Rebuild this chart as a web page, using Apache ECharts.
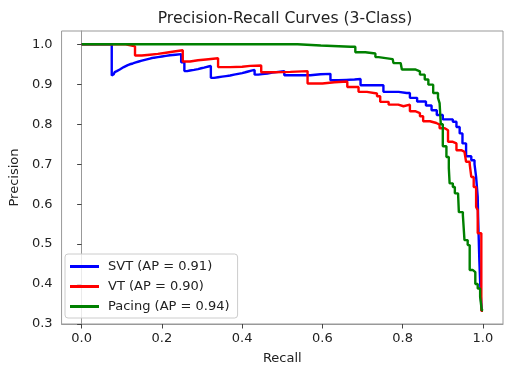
<!DOCTYPE html>
<html>
<head>
<meta charset="utf-8">
<script src="https://cdn.jsdelivr.net/npm/echarts@6/dist/echarts.min.js"></script>
<style>html,body{margin:0;padding:0;background:#fff;}#c{width:512px;height:375px;}</style>
</head>
<body>
<div id="c"></div>
<script>
var seriesNames = ['SVT (AP = 0.91)', 'VT (AP = 0.90)', 'Pacing (AP = 0.94)'];
var xTicks = [0.0, 0.2, 0.4, 0.6, 0.8, 1.0];
var yTicks = [0.3, 0.4, 0.5, 0.6, 0.7, 0.8, 0.9, 1.0];

var svtRecall = [0, 0.075, 0.075, 0.0775, 0.08, 0.0825, 0.085, 0.0875, 0.09, 0.095, 0.10, 0.105, 0.11, 0.115, 0.12, 0.1275, 0.135, 0.1425, 0.15, 0.1575, 0.165, 0.1725, 0.18, 0.19, 0.20, 0.21, 0.22, 0.234, 0.248, 0.248, 0.256, 0.256, 0.263, 0.27, 0.28, 0.29, 0.298, 0.305, 0.31, 0.316, 0.322, 0.322, 0.33, 0.34, 0.35, 0.36, 0.37, 0.38, 0.39, 0.40, 0.408, 0.415, 0.423, 0.431, 0.431, 0.44, 0.45, 0.463, 0.475, 0.49, 0.505, 0.505, 0.546, 0.57, 0.595, 0.62, 0.62, 0.64, 0.66, 0.68, 0.695, 0.695, 0.752, 0.752, 0.79, 0.81, 0.818, 0.836, 0.858, 0.872, 0.885, 0.90, 0.925, 0.934, 0.942, 0.949, 0.958, 0.971, 0.979, 0.983, 0.987, 0.988, 0.991, 0.994, 0.997, 1.0];
var svtPrecision = [1.0, 1.0, 0.922, 0.925, 0.928, 0.9305, 0.933, 0.935, 0.937, 0.940, 0.943, 0.9455, 0.948, 0.950, 0.952, 0.9545, 0.957, 0.959, 0.961, 0.963, 0.965, 0.9665, 0.968, 0.9695, 0.971, 0.9725, 0.974, 0.9755, 0.977, 0.955, 0.955, 0.933, 0.9345, 0.936, 0.938, 0.940, 0.9415, 0.943, 0.9445, 0.946, 0.946, 0.916, 0.9175, 0.919, 0.9205, 0.922, 0.924, 0.926, 0.928, 0.930, 0.932, 0.934, 0.936, 0.9375, 0.924, 0.9255, 0.927, 0.929, 0.931, 0.933, 0.935, 0.9225, 0.9225, 0.925, 0.926, 0.927, 0.91, 0.911, 0.912, 0.913, 0.914, 0.8975, 0.8975, 0.881, 0.878, 0.878, 0.866, 0.857, 0.847, 0.835, 0.823, 0.812, 0.806, 0.793, 0.777, 0.752, 0.72, 0.71, 0.70, 0.668, 0.618, 0.568, 0.46, 0.38, 0.333, 0.333];

var vtRecall = [0, 0.110, 0.110, 0.133, 0.133, 0.15, 0.17, 0.19, 0.21, 0.23, 0.252, 0.252, 0.27, 0.29, 0.31, 0.340, 0.340, 0.37, 0.40, 0.42, 0.4475, 0.4475, 0.48, 0.52, 0.563, 0.563, 0.60, 0.63, 0.662, 0.662, 0.69, 0.69, 0.711, 0.736, 0.744, 0.765, 0.789, 0.802, 0.818, 0.831, 0.843, 0.851, 0.868, 0.884, 0.892, 0.905, 0.913, 0.925, 0.934, 0.946, 0.954, 0.958, 0.967, 0.971, 0.977, 0.983, 0.987, 0.987, 0.996, 0.996, 1.0];
var vtPrecision = [1.0, 1.0, 0.995, 0.995, 0.972, 0.974, 0.976, 0.979, 0.982, 0.985, 0.987, 0.957, 0.960, 0.962, 0.965, 0.968, 0.943, 0.944, 0.946, 0.947, 0.9485, 0.93, 0.931, 0.933, 0.935, 0.902, 0.905, 0.907, 0.91, 0.893, 0.893, 0.881, 0.877, 0.87, 0.856, 0.849, 0.845, 0.849, 0.8325, 0.828, 0.82, 0.8075, 0.803, 0.799, 0.79, 0.785, 0.756, 0.752, 0.735, 0.731, 0.7265, 0.706, 0.70, 0.668, 0.643, 0.593, 0.585, 0.527, 0.527, 0.333, 0.333];

var pacingRecall = [0, 0.538, 0.538, 0.596, 0.596, 0.67, 0.682, 0.682, 0.70, 0.707, 0.732, 0.740, 0.775, 0.777, 0.795, 0.798, 0.831, 0.843, 0.855, 0.864, 0.876, 0.888, 0.892, 0.895, 0.90, 0.909, 0.915, 0.917, 0.925, 0.930, 0.938, 0.940, 0.950, 0.954, 0.962, 0.967, 0.975, 0.981, 0.987, 0.993, 0.997, 1.0];
var pacingPrecision = [1.0, 1.0, 0.997, 0.997, 0.994, 0.994, 0.993, 0.98, 0.98, 0.977, 0.968, 0.963, 0.963, 0.953, 0.952, 0.937, 0.9325, 0.924, 0.912, 0.899, 0.878, 0.866, 0.853, 0.80, 0.745, 0.718, 0.69, 0.652, 0.643, 0.627, 0.627, 0.58, 0.5725, 0.51, 0.4975, 0.435, 0.43, 0.40, 0.389, 0.368, 0.335, 0.333];

function zip(a, b) { return a.map(function (v, i) { return [v, b[i]]; }); }

var FONT = 'DejaVu Sans';
var chart = echarts.init(document.getElementById('c'), null, { renderer: 'canvas' });
function mkSeries(name, rec, prec, color) {
  return {
    name: name, type: 'line', data: zip(rec, prec), showSymbol: false, symbol: 'none', step: 'end',
    lineStyle: { color: color, width: 2.4 }, itemStyle: { color: color },
    animation: false, clip: true
  };
}
function fmt(v) {
  var r = Math.round(v * 10) / 10;
  return Math.abs(v - r) < 1e-6 ? r.toFixed(1) : '';
}
chart.setOption({
  animation: false,
  backgroundColor: '#fff',
  title: {
    text: 'Precision-Recall Curves (3-Class)', left: 280, top: 6, textAlign: 'center',
    textStyle: { fontFamily: FONT, fontSize: 15.6, fontWeight: 'normal', color: '#222' }
  },
  grid: { left: 58, right: 9, top: 31, bottom: 51, show: true, borderColor: '#999', borderWidth: 1, containLabel: false },
  legend: {
    orient: 'vertical', left: 65, top: 254, icon: 'rect', itemWidth: 29, itemHeight: 3, itemGap: 7,
    padding: [6, 8, 5, 5], backgroundColor: 'rgba(255,255,255,0.8)', borderColor: '#cccccc', borderWidth: 1, borderRadius: 3,
    textStyle: { fontFamily: FONT, fontSize: 13, color: '#222', padding: [0, 0, 0, 4] },
    data: seriesNames
  },
  xAxis: {
    type: 'value', min: -0.05, max: 1.05,
    name: 'Recall', nameLocation: 'middle', nameGap: 28,
    nameTextStyle: { fontFamily: FONT, fontSize: 13, color: '#222' },
    axisLine: { show: true, lineStyle: { color: '#999' } },
    axisTick: { show: true, length: 4.5, lineStyle: { color: '#444' }, customValues: xTicks },
    axisLabel: { fontFamily: FONT, fontSize: 13, color: '#222', margin: 8, customValues: xTicks,
      formatter: function (v) { return v.toFixed(1); } },
    splitLine: { show: false }
  },
  yAxis: {
    type: 'value', min: yTicks[0], max: 1.0333, interval: 0.1,
    name: 'Precision', nameLocation: 'middle', nameGap: 37, nameRotate: 90,
    nameTextStyle: { fontFamily: FONT, fontSize: 13, color: '#222' },
    axisLine: { show: true, lineStyle: { color: '#999' } },
    axisTick: { show: true, length: 4.5, lineStyle: { color: '#444' }, customValues: yTicks },
    axisLabel: { fontFamily: FONT, fontSize: 13, color: '#222', margin: 9, showMaxLabel: true, hideOverlap: false,
      formatter: fmt },
    splitLine: { show: false }
  },
  series: [
    mkSeries(seriesNames[0], svtRecall, svtPrecision, '#0000ff'),
    mkSeries(seriesNames[1], vtRecall, vtPrecision, '#ff0000'),
    mkSeries(seriesNames[2], pacingRecall, pacingPrecision, '#008000')
  ]
});
</script>
</body>
</html>
